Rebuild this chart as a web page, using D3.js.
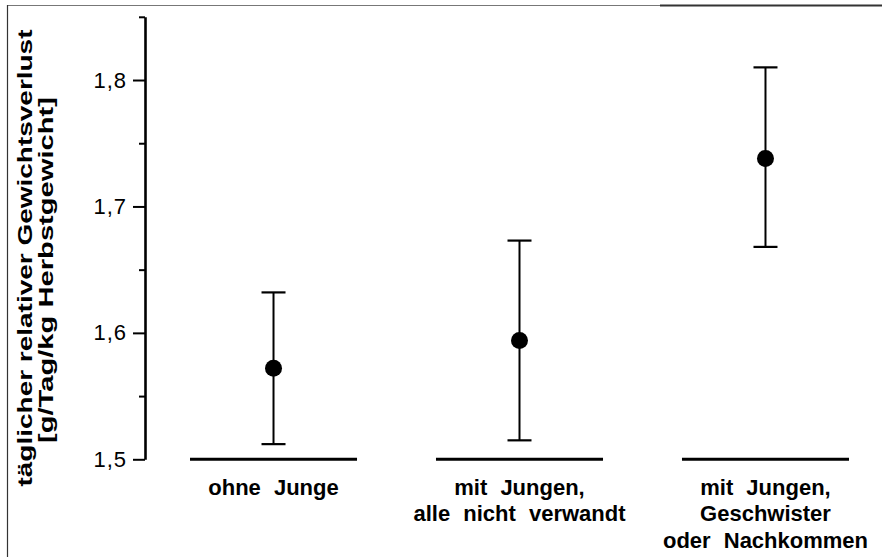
<!DOCTYPE html>
<html>
<head>
<meta charset="utf-8">
<script src="https://cdn.jsdelivr.net/npm/d3@7/dist/d3.min.js"></script>
<style>
  html, body { margin: 0; padding: 0; background: #fff; }
  svg { display: block; }
  text { font-family: "Liberation Sans", Arial, sans-serif; fill: #000; }
</style>
</head>
<body>
<svg id="chart" width="882" height="557"></svg>
<script>
// Groups, each label split into its printed lines
const groupKeys = ["ohne", "nichtVerwandt", "verwandt"];
const groupLabels = [
  ["ohne Junge"],
  ["mit Jungen,", "alle nicht verwandt"],
  ["mit Jungen,", "Geschwister", "oder Nachkommen"]
];
// Daily relative weight loss: mean with lower / upper bound of the error bar
const means = [1.572, 1.594, 1.738];
const upperBounds = [1.632, 1.673, 1.810];
const lowerBounds = [1.512, 1.515, 1.668];
// Axis ticks
const majorTicks = [1.5, 1.6, 1.7, 1.8];
const majorTickLabels = ["1,5", "1,6", "1,7", "1,8"];
const minorTicks = [1.55, 1.65, 1.75, 1.85];
const yTitleLines = ["täglicher relativer Gewichtsverlust", "[g/Tag/kg Herbstgewicht]"];

const svg = d3.select("#chart");

const axisX = 145;
const y = d3.scaleLinear().domain([1.5, 1.85]).range([459.3, 16.8]);
const x = d3.scaleBand().domain(groupKeys).range([190, 849]).paddingInner(0.321).paddingOuter(0);

// Frame lines along the top and left edge
svg.append("line").attr("x1", 7).attr("x2", 660).attr("y1", 5.5).attr("y2", 5.5)
  .attr("stroke", "#777").attr("stroke-width", 1);
svg.append("line").attr("x1", 660).attr("x2", 882).attr("y1", 5.5).attr("y2", 5.5)
  .attr("stroke", "#333").attr("stroke-width", 2);
svg.append("line").attr("x1", 7.5).attr("x2", 7.5).attr("y1", 5).attr("y2", 557)
  .attr("stroke", "#333").attr("stroke-width", 1.2);

// Minor ticks
const minorAxis = d3.axisLeft(y).tickValues(minorTicks).tickSize(6).tickSizeOuter(0).tickFormat("");
const gMinor = svg.append("g").attr("transform", `translate(${axisX},0)`).call(minorAxis);
gMinor.select(".domain").remove();
gMinor.selectAll(".tick line").attr("stroke", "#000").attr("stroke-width", 2);

// Major ticks with labels
const majorAxis = d3.axisLeft(y).tickValues(majorTicks).tickSize(12).tickSizeOuter(0).tickPadding(6)
  .tickFormat((d, i) => majorTickLabels[i]);
const gMajor = svg.append("g").attr("transform", `translate(${axisX},0)`).call(majorAxis);
gMajor.select(".domain").attr("stroke", "#000").attr("stroke-width", 2.6);
gMajor.selectAll(".tick line").attr("stroke", "#000").attr("stroke-width", 2);
gMajor.selectAll(".tick text")
  .style("font-family", "'Liberation Sans', Arial, sans-serif")
  .style("font-size", "22px")
  .style("letter-spacing", "1px")
  .attr("fill", "#000");

// Y title, two rotated lines
const titleCenters = [[25, 258], [46, 270]];
const titleLengths = [457, 346];
yTitleLines.forEach((t, i) => {
  svg.append("text")
    .attr("transform", `translate(${titleCenters[i][0]},${titleCenters[i][1]}) rotate(-90)`)
    .attr("text-anchor", "middle")
    .attr("dy", "0.35em")
    .attr("textLength", titleLengths[i])
    .attr("lengthAdjust", "spacingAndGlyphs")
    .style("font-size", "20px")
    .style("font-weight", "bold")
    .text(t);
});

// Baseline segment under each group
svg.selectAll("line.base").data(groupKeys).enter().append("line")
  .attr("class", "base")
  .attr("x1", d => x(d)).attr("x2", d => x(d) + x.bandwidth())
  .attr("y1", y(1.5)).attr("y2", y(1.5))
  .attr("stroke", "#000").attr("stroke-width", 3);

const cx = d => x(d) + x.bandwidth() / 2;
const capHalf = 12;

// Error bars
const bars = svg.selectAll("g.err").data(groupKeys).enter().append("g").attr("class", "err");
bars.append("line")
  .attr("x1", cx).attr("x2", cx)
  .attr("y1", (d, i) => y(upperBounds[i])).attr("y2", (d, i) => y(lowerBounds[i]))
  .attr("stroke", "#000").attr("stroke-width", 2);
bars.append("line")
  .attr("x1", d => cx(d) - capHalf).attr("x2", d => cx(d) + capHalf)
  .attr("y1", (d, i) => y(upperBounds[i])).attr("y2", (d, i) => y(upperBounds[i]))
  .attr("stroke", "#000").attr("stroke-width", 2.2);
bars.append("line")
  .attr("x1", d => cx(d) - capHalf).attr("x2", d => cx(d) + capHalf)
  .attr("y1", (d, i) => y(lowerBounds[i])).attr("y2", (d, i) => y(lowerBounds[i]))
  .attr("stroke", "#000").attr("stroke-width", 2.2);

// Means
svg.selectAll("circle.mean").data(groupKeys).enter().append("circle")
  .attr("class", "mean")
  .attr("cx", cx)
  .attr("cy", (d, i) => y(means[i]))
  .attr("r", 8.5)
  .attr("fill", "#000");

// Group labels
const labelBaseline = 495;
const lineStep = 26.3;
groupKeys.forEach((k, i) => {
  const tx = svg.append("text")
    .attr("text-anchor", "middle")
    .style("font-size", "22px")
    .style("font-weight", "bold")
    .style("word-spacing", "7px");
  groupLabels[i].forEach((line, j) => {
    tx.append("tspan")
      .attr("x", cx(k))
      .attr("y", labelBaseline + j * lineStep)
      .text(line);
  });
});
</script>
</body>
</html>
